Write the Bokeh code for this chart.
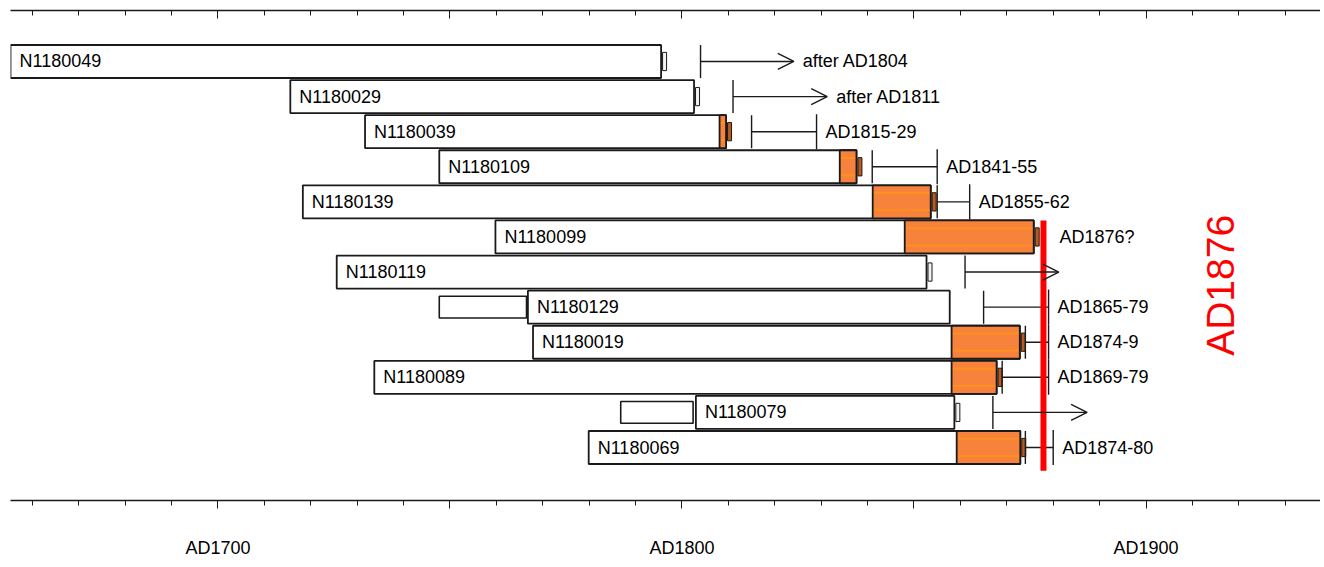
from bokeh.plotting import figure
from bokeh.embed import file_html
from bokeh.resources import INLINE
from bokeh.core.properties import value
from bokeh.models import (Range1d, LinearAxis, FixedTicker, CustomJSTickFormatter,
                          Arrow, OpenHead, ColumnDataSource, Label)

# ---------------- data ----------------
samples = ["N1180049", "N1180029", "N1180039", "N1180109", "N1180139", "N1180099",
           "N1180119", "N1180129", "N1180019", "N1180089", "N1180079", "N1180069"]
first_ring = [1655.3, 1715.6, 1731.7, 1747.7, 1718.3, 1759.8,
              1725.6, 1766.8, 1767.9, 1733.7, 1803.0, 1779.9]
sapwood_start = [None, None, 1808.1, 1834.0, 1841.1, 1848.0,
                 None, None, 1858.1, 1858.1, None, 1859.2]
last_ring = [1795.5, 1802.6, 1809.5, 1837.6, 1853.6, 1875.8,
             1852.7, 1857.7, 1872.8, 1867.8, 1858.7, 1872.9]
has_end_marker = [True, True, True, True, True, True,
                  True, False, True, True, True, True]
# undated extra sections (row index, from, to)
extra_rows = [8, 11]
extra_from = [1747.7, 1786.8]
extra_to = [1766.5, 1802.4]

felling_from = [1804, 1811, 1815, 1841, 1855, None, 1861, 1865, 1874, 1869, 1867, 1874]
felling_to = [1824.1, 1831.3, 1829, 1855, 1862, None, 1881.2, 1879, 1879, 1879, 1887.3, 1880]
felling_open = [True, True, False, False, False, None, True, False, False, False, True, False]
felling_text = ["after AD1804", "after AD1811", "AD1815-29", "AD1841-55", "AD1855-62",
                "AD1876?", "", "AD1865-79", "AD1874-9", "AD1869-79", "", "AD1874-80"]
felling_text_at = [1824.1, 1831.3, 1829, 1855, 1862, 1879.4, 1881.2, 1879, 1879, 1879, 1887.3, 1880]

event_year = 1877.9
event_text = "AD1876"

tick_major = [1700, 1750, 1800, 1850, 1900]
tick_minor = list(range(1660, 1940, 10))
tick_label_years = [1700, 1800, 1900]
tick_labels = ["AD1700", "AD1800", "AD1900"]

# ---------------- style ----------------
FONT = "Liberation Sans"
FS = "18px"
INK = "#1a1a1a"
ORANGE = "#f7823c"
STRIPE = "#ff8f1f"
H = 0.94

rows = list(range(1, len(samples) + 1))

p = figure(width=1320, height=563, output_backend="svg", toolbar_location=None,
           x_range=Range1d(1655.3, 1937.6), y_range=Range1d(13.51, -0.453),
           x_axis_location=None, y_axis_location=None,
           min_border_left=10, min_border_right=0, min_border_top=10, min_border_bottom=63)
p.outline_line_color = None
p.xgrid.visible = False
p.ygrid.visible = False
p.background_fill_color = "white"
p.border_fill_color = "white"

# axes
top = LinearAxis(ticker=FixedTicker(ticks=tick_major, minor_ticks=tick_minor),
                 formatter=CustomJSTickFormatter(code="return ''"),
                 major_tick_in=8, major_tick_out=0, minor_tick_in=5, minor_tick_out=0,
                 major_label_text_font_size="0px", major_label_standoff=0,
                 axis_line_width=1.5, axis_line_color=INK,
                 major_tick_line_color=INK, minor_tick_line_color=INK)
p.add_layout(top, "above")

bottom = LinearAxis(ticker=FixedTicker(ticks=tick_major, minor_ticks=tick_minor),
                    formatter=CustomJSTickFormatter(
                        args=dict(years=tick_label_years, labels=tick_labels),
                        code="const i = years.indexOf(tick); return i >= 0 ? labels[i] : '';"),
                    major_tick_in=0, major_tick_out=8, minor_tick_in=0, minor_tick_out=5,
                    major_label_standoff=29, major_label_text_font=FONT,
                    major_label_text_font_size=FS, major_label_text_color="black",
                    axis_line_width=1.5, axis_line_color=INK,
                    major_tick_line_color=INK, minor_tick_line_color=INK)
p.add_layout(bottom, "below")

# undated extra sections
p.quad(left=extra_from, right=extra_to,
       top=[r - 0.31 for r in extra_rows], bottom=[r + 0.31 for r in extra_rows],
       fill_color="white", line_color=INK, line_width=1.6)

# main bars
p.quad(left=first_ring, right=last_ring,
       top=[r - H / 2 for r in rows], bottom=[r + H / 2 for r in rows],
       fill_color="white", line_color=INK, line_width=1.8)

# sapwood
sw = [(r, s, e) for r, s, e in zip(rows, sapwood_start, last_ring) if s is not None]
p.quad(left=[s for _, s, _ in sw], right=[e for _, _, e in sw],
       top=[r - H / 2 for r, _, _ in sw], bottom=[r + H / 2 for r, _, _ in sw],
       fill_color=ORANGE, line_color=INK, line_width=1.8)
for off in (-0.25, 0.24):
    p.segment(x0=[s + 0.3 for _, s, _ in sw], x1=[e - 0.3 for _, _, e in sw],
              y0=[r + off for r, _, _ in sw], y1=[r + off for r, _, _ in sw],
              line_color=STRIPE, line_width=2)

# end markers
mk = [(r, e, s is not None) for r, e, s, m in zip(rows, last_ring, sapwood_start, has_end_marker) if m]
p.rect(x=[e + 0.75 for _, e, _ in mk], y=[r for r, _, _ in mk], width=4, width_units="screen",
       height=0.52, fill_color=["#b95a1c" if o else "#f2f2f2" for _, _, o in mk],
       line_color=INK, line_width=1)

# felling ranges
fr = [(r, a, b, o) for r, a, b, o in zip(rows, felling_from, felling_to, felling_open) if a is not None]
p.segment(x0=[a for _, a, _, _ in fr], x1=[a for _, a, _, _ in fr],
          y0=[r - H / 2 for r, _, _, _ in fr], y1=[r + H / 2 for r, _, _, _ in fr],
          line_color=INK, line_width=1.4)
closed = [(r, a, b) for r, a, b, o in fr if not o]
p.segment(x0=[a for _, a, _ in closed], x1=[b for _, _, b in closed],
          y0=[r for r, _, _ in closed], y1=[r for r, _, _ in closed],
          line_color=INK, line_width=1.4)
p.segment(x0=[b for _, _, b in closed], x1=[b for _, _, b in closed],
          y0=[r - 0.5 for r, _, _ in closed], y1=[r + 0.5 for r, _, _ in closed],
          line_color=INK, line_width=1.4)
opened = [(r, a, b) for r, a, b, o in fr if o]
asrc = ColumnDataSource(dict(xs=[a for _, a, _ in opened], xe=[b for _, _, b in opened],
                             y=[r for r, _, _ in opened]))
p.add_layout(Arrow(end=OpenHead(size=16, line_width=1.4, line_color=INK),
                   x_start="xs", x_end="xe", y_start="y", y_end="y", source=asrc,
                   line_color=INK, line_width=1.4))

# texts
p.text(x=first_ring, y=rows, text=samples, x_offset=9, text_align="left",
       text_baseline="middle", text_font=value(FONT), text_font_size=FS, text_color="black")
p.text(x=felling_text_at, y=rows, text=felling_text, x_offset=9, text_align="left",
       text_baseline="middle", text_font=value(FONT), text_font_size=FS, text_color="black")

# event line
p.segment(x0=[event_year], x1=[event_year], y0=[5.53], y1=[12.66], line_color="red", line_width=6)
p.add_layout(Label(x=event_year, y=7.38, x_offset=177, text=event_text, angle=1.5708,
                   text_align="center", text_baseline="middle", text_color="red",
                   text_font="Liberation Sans", text_font_size="39px"))

open("out.html", "w").write(file_html(p, INLINE))
